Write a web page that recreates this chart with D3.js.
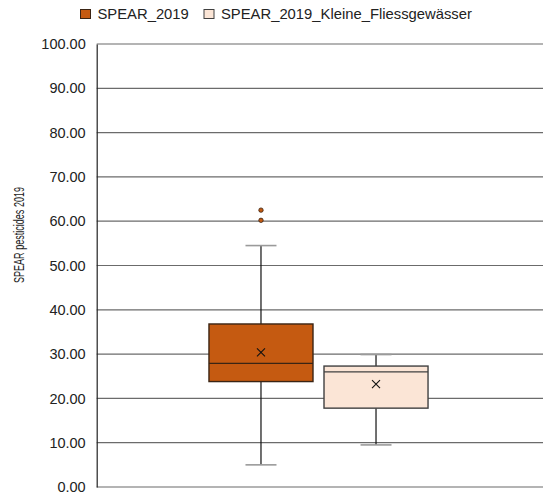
<!DOCTYPE html>
<html><head><meta charset="utf-8">
<script src="https://cdn.jsdelivr.net/npm/d3@7"></script>
<style>body{margin:0;background:#fff}svg{display:block}</style>
</head><body><svg id="c" width="543" height="492"></svg>
<script>
const series = ["SPEAR_2019", "SPEAR_2019_Kleine_Fliessgewässer"];
const whiskerLow = [5.0, 9.5];
const q1 = [23.8, 17.8];
const median = [27.9, 26.0];
const q3 = [36.8, 27.3];
const whiskerHigh = [54.5, 29.9];
const means = [30.4, 23.2];
const outliers = [[60.2, 62.5], []];
const yTicks = [0,10,20,30,40,50,60,70,80,90,100];
const fills = ["#C55A11", "#FBE5D6"];
const strokes = ["#3a2414", "#404040"];
const yLabel = "SPEAR pesticides 2019";

const svg = d3.select("#c");
const font = "Liberation Sans, Arial, sans-serif";
const y = d3.scaleLinear().domain([0,100]).range([487,44]);
const x = d3.scaleBand().domain(series).range([96.7,540.3]).paddingInner(0.0957).paddingOuter(0.976);

// gridlines
svg.append("g").selectAll("line").data(yTicks.filter(d=>d>0)).join("line")
  .attr("x1",96.7).attr("x2",543).attr("y1",d=>y(d)).attr("y2",d=>y(d))
  .attr("stroke","#6b6b6b").attr("stroke-width",1.2);
// bottom axis
svg.append("line").attr("x1",96.7).attr("x2",543).attr("y1",y(0)).attr("y2",y(0))
  .attr("stroke","#6b6b6b").attr("stroke-width",1.2);

// y axis
const ya = svg.append("g").attr("transform","translate(96.7,0)")
  .call(d3.axisLeft(y).tickValues(yTicks).tickFormat(d3.format(".2f")).tickSize(0).tickPadding(11));
ya.select(".domain").attr("stroke","#222").attr("stroke-width",1.2);
ya.selectAll("text").attr("font-family",font).attr("font-size",14.5).attr("fill","#222");

// y label
svg.append("text").attr("transform","translate(23.5,235) rotate(-90)")
  .attr("text-anchor","middle").attr("font-family",font).attr("font-size",14)
  .attr("textLength",96).attr("lengthAdjust","spacingAndGlyphs").attr("fill","#222").text(yLabel);

// boxes
series.forEach((s,i)=>{
  const g = svg.append("g");
  const bx = x(s), bw = x.bandwidth(), cx = bx + bw/2;
  const capW = 31;
  g.append("line").attr("x1",cx).attr("x2",cx).attr("y1",y(whiskerHigh[i])).attr("y2",y(q3[i])).attr("stroke","#111").attr("stroke-width",1.2);
  g.append("line").attr("x1",cx).attr("x2",cx).attr("y1",y(q1[i])).attr("y2",y(whiskerLow[i])).attr("stroke","#111").attr("stroke-width",1.2);
  [whiskerHigh[i], whiskerLow[i]].forEach(v=>{
    g.append("line").attr("x1",cx-capW/2).attr("x2",cx+capW/2).attr("y1",y(v)).attr("y2",y(v)).attr("stroke","#9a9a9a").attr("stroke-width",1.6);
  });
  g.append("rect").attr("x",bx).attr("width",bw).attr("y",y(q3[i])).attr("height",y(q1[i])-y(q3[i]))
    .attr("fill",fills[i]).attr("stroke",strokes[i]).attr("stroke-width",1.4);
  g.append("line").attr("x1",bx).attr("x2",bx+bw).attr("y1",y(median[i])).attr("y2",y(median[i])).attr("stroke",strokes[i]).attr("stroke-width",1.2);
  const my = y(means[i]), r = 4;
  g.append("path").attr("d",`M${cx-r},${my-r}L${cx+r},${my+r}M${cx-r},${my+r}L${cx+r},${my-r}`).attr("stroke","#111").attr("stroke-width",1.1);
  g.selectAll("circle").data(outliers[i]).join("circle").attr("cx",cx).attr("cy",d=>y(d)).attr("r",2.2)
    .attr("fill",fills[i]).attr("stroke","#3a2414").attr("stroke-width",0.8);
});

// legend
const lg = svg.append("g");
const lx = [80.5, 204];
series.forEach((s,i)=>{
  lg.append("rect").attr("x",lx[i]).attr("y",9.5).attr("width",10).attr("height",9)
    .attr("fill",fills[i]).attr("stroke",strokes[i]).attr("stroke-width",1);
  lg.append("text").attr("x",lx[i]+17).attr("y",18.5).attr("font-family",font).attr("font-size",14.8)
    .attr("fill","#222").text(s);
});
</script></body></html>
